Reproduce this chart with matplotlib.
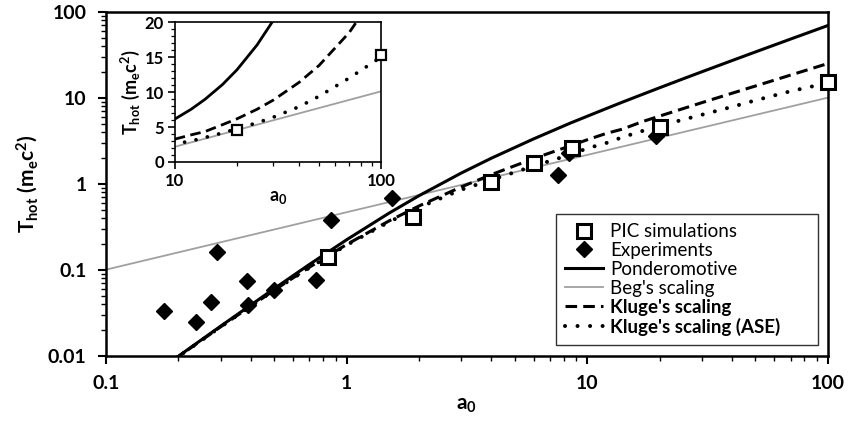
import matplotlib
matplotlib.use("Agg")
import matplotlib.pyplot as plt
import numpy as np
from matplotlib.lines import Line2D
from matplotlib.ticker import NullFormatter

plt.rcParams['font.family'] = ['Lato', 'DejaVu Sans']
plt.rcParams['mathtext.fontset'] = 'custom'
plt.rcParams['mathtext.rm'] = 'Lato'
plt.rcParams['mathtext.bf'] = 'Lato:bold'
plt.rcParams['mathtext.it'] = 'Lato:bold'
plt.rcParams['mathtext.default'] = 'bf'

# PIC simulations
pic_a = [0.84, 1.88, 3.98, 6.0, 8.66, 20.1, 100]
pic_T = [0.142, 0.41, 1.05, 1.75, 2.6, 4.6, 15.3]

# experiments
exp_a = [0.174, 0.237, 0.274, 0.29, 0.387, 0.39, 0.497, 0.743, 0.858, 1.55, 7.55, 8.4, 19.4]
exp_T = [0.0333, 0.0248, 0.0425, 0.162, 0.0745, 0.039, 0.0585, 0.0766, 0.381, 0.687, 1.27, 2.3, 3.6]

# model curves
a_curve = [0.19, 0.2, 0.3, 0.5, 0.7, 1, 1.5, 2, 3, 4, 6, 8.5, 10, 12, 14, 17, 20, 25, 30,
           40, 50, 70, 100]
pond_T = [0.00898, 0.00995, 0.0223, 0.0607, 0.116, 0.2247, 0.458, 0.732, 1.345, 2.0, 3.359,
          5.11, 6.141, 7.544, 8.96, 11.06, 13.18, 16.71, 20.24, 27.30, 34.37, 48.51, 69.72]
beg_a = [0.1, 1, 10, 100]
beg_T = [0.101, 0.47, 2.18, 10.1]
kluge_T = [0.0089, 0.00985, 0.0219, 0.0582, 0.1076, 0.198, 0.372, 0.556, 0.927, 1.288, 1.98,
           2.78, 3.27, 3.88, 4.35, 5.33, 6.17, 7.53, 8.85, 11.38, 13.8, 18.5, 25.2]
ase_T = [0.0089, 0.00985, 0.0219, 0.0582, 0.106, 0.195, 0.362, 0.535, 0.86, 1.12, 1.62,
         2.2, 2.6, 3.0, 3.5, 4.15, 4.75, 5.6, 6.4, 7.9, 9.4, 12.0, 15.0]

fig = plt.figure(figsize=(8.49, 4.32), dpi=100)
ax = fig.add_axes([0.1249, 0.176, 0.8501, 0.796])

dashed = (0, (3.8, 2.0))
dotted = (0, (0.01, 3.1))

def draw_lines(axis, lw=2.2):
    axis.plot(a_curve, pond_T, color='black', lw=lw, zorder=3)
    axis.plot(beg_a, beg_T, color='#a0a0a0', lw=1.3, zorder=2)
    axis.plot(a_curve, kluge_T, color='black', lw=lw, ls=dashed, zorder=3)
    axis.plot(a_curve, ase_T, color='black', lw=lw + 0.7, ls=dotted,
              dash_capstyle='round', zorder=3)

draw_lines(ax)
ax.plot(exp_a, exp_T, 'D', color='black', ms=8.5, zorder=4)
ax.plot(pic_a, pic_T, 's', mfc='white', mec='black', mew=2.2, ms=10.5, zorder=5, clip_on=False)

ax.set_xscale('log')
ax.set_yscale('log')
ax.set_xlim(0.1, 100)
ax.set_ylim(0.01, 100)
ax.set_xticks([0.1, 1, 10, 100])
ax.set_xticklabels(['0.1', '1', '10', '100'])
ax.set_yticks([0.01, 0.1, 1, 10, 100])
ax.set_yticklabels(['0.01', '0.1', '1', '10', '100'])
ax.xaxis.set_minor_formatter(NullFormatter())
ax.yaxis.set_minor_formatter(NullFormatter())
for s in ax.spines.values():
    s.set_linewidth(1.8)
ax.tick_params(which='major', length=6, width=1.5, labelsize=14, pad=8)
ax.tick_params(which='minor', length=3.5, width=1.0)
for t in ax.get_xticklabels() + ax.get_yticklabels():
    t.set_fontweight('bold')
ax.set_xlabel('$a_0$', fontsize=15, labelpad=2)
ax.set_ylabel('$T_{hot}$ $(m_e c^2)$', fontsize=15, labelpad=6)

# legend
handles = [
    Line2D([], [], ls='none', marker='s', mfc='white', mec='black', mew=2.2, ms=10),
    Line2D([], [], ls='none', marker='D', color='black', ms=8.5),
    Line2D([], [], color='black', lw=2.2),
    Line2D([], [], color='#a0a0a0', lw=1.3),
    Line2D([], [], color='black', lw=2.2, ls=dashed),
    Line2D([], [], color='black', lw=2.9, ls=dotted, dash_capstyle='round'),
]
labels = ['PIC simulations', 'Experiments', 'Ponderomotive', "Beg's scaling",
          "Kluge's scaling", "Kluge's scaling (ASE)"]
leg = ax.legend(handles, labels, loc='lower left', bbox_to_anchor=(0.623, 0.032, 0.364, 0.3),
                mode='expand', fontsize=13.5, frameon=True, fancybox=False,
                edgecolor='black', handlelength=2.0, handletextpad=0.4,
                labelspacing=0.1, borderpad=0.5, borderaxespad=0)
leg.get_frame().set_linewidth(1.0)
for t in leg.get_texts()[4:]:
    t.set_fontweight('bold')

# inset
ins = fig.add_axes([0.206, 0.625, 0.243, 0.324])
draw_lines(ins, lw=2.0)
pa = np.array(pic_a)
pt = np.array(pic_T)
sel = pa >= 10
ins.plot(pa[sel], pt[sel], 's', mfc='white', mec='black', mew=1.6, ms=7.5, zorder=5,
         clip_on=False)
ins.set_xscale('log')
ins.set_xlim(10, 100)
ins.set_ylim(0, 20)
ins.set_xticks([10, 100])
ins.set_xticklabels(['10', '100'])
ins.xaxis.set_minor_formatter(NullFormatter())
ins.set_yticks([0, 5, 10, 15, 20])
ins.set_yticks(np.arange(0, 21, 1), minor=True)
for s in ins.spines.values():
    s.set_linewidth(1.2)
ins.tick_params(which='major', length=5, width=1.2, labelsize=12, pad=3)
ins.tick_params(which='minor', length=3, width=0.9)
for t in ins.get_xticklabels() + ins.get_yticklabels():
    t.set_fontweight('bold')
ins.set_xlabel('$a_0$', fontsize=13, labelpad=0)
ins.set_ylabel('$T_{hot}$ $(m_e c^2)$', fontsize=13, labelpad=2)

fig.savefig('out.png', dpi=100)
